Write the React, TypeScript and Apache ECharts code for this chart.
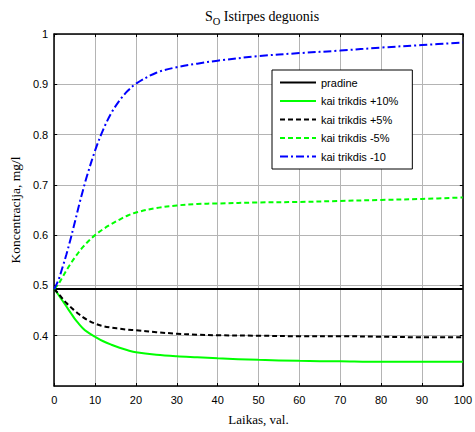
import React, { useEffect, useRef } from "react";
import * as echarts from "echarts";

const xs = [0, 1, 2, 3, 4, 5, 6, 7, 8, 10, 12, 14, 16, 18, 20, 25, 30, 35, 40, 50, 60, 70, 80, 90, 100];
const pradine = xs.map(() => 0.493);
const plus10 = [0.493, 0.482, 0.47, 0.458, 0.446, 0.434, 0.424, 0.415, 0.408, 0.398, 0.389, 0.382, 0.376, 0.371, 0.367, 0.362, 0.359, 0.357, 0.355, 0.352, 0.35, 0.349, 0.348, 0.348, 0.348];
const plus5 = [0.493, 0.484, 0.474, 0.465, 0.457, 0.45, 0.443, 0.437, 0.432, 0.424, 0.419, 0.416, 0.414, 0.412, 0.411, 0.407, 0.404, 0.402, 0.401, 0.4, 0.399, 0.399, 0.398, 0.397, 0.397];
const minus5 = [0.493, 0.502, 0.516, 0.53, 0.543, 0.555, 0.566, 0.576, 0.585, 0.6, 0.612, 0.622, 0.631, 0.639, 0.645, 0.654, 0.659, 0.662, 0.663, 0.665, 0.666, 0.668, 0.67, 0.672, 0.675];
const minus10 = [0.493, 0.51, 0.535, 0.562, 0.592, 0.624, 0.657, 0.688, 0.717, 0.768, 0.81, 0.843, 0.868, 0.887, 0.901, 0.923, 0.934, 0.941, 0.947, 0.956, 0.962, 0.967, 0.973, 0.978, 0.983];
const seriesNames = ["pradine", "kai trikdis +10%", "kai trikdis +5%", "kai trikdis -5%", "kai trikdis -10"];

const pairs = (ys: number[]) => xs.map((x, i) => [x, ys[i]]);

export default function App() {
  const ref = useRef<HTMLDivElement>(null);
  useEffect(() => {
    if (!ref.current) return;
    const chart = echarts.init(ref.current, null, { renderer: "svg" });
    const sans = "'Liberation Sans', Arial, sans-serif";
    const serif = "'Liberation Serif', 'Times New Roman', serif";
    const gridLine = { show: true, lineStyle: { color: "#b4b4b4", width: 1 } };
    const mk = (name: string, ys: number[], color: string, type: any) => ({
      name,
      type: "line",
      data: pairs(ys),
      showSymbol: false,
      symbol: "none",
      smooth: 0.35,
      lineStyle: { color, width: 2, type },
      itemStyle: { color },
      xAxisIndex: 0,
      yAxisIndex: 0,
      z: 3,
    });
    chart.setOption({
      animation: false,
      backgroundColor: "#ffffff",
      title: {
        text: "{s|S}{o|O}{s| Istirpes deguonis}",
        left: 200,
        top: 4,
        textStyle: {
          fontWeight: "normal",
          rich: {
            s: { fontFamily: serif, fontSize: 14, fontWeight: "normal", color: "#000", lineHeight: 18, verticalAlign: "top" },
            o: { fontFamily: serif, fontSize: 10.5, fontWeight: "normal", color: "#000", lineHeight: 18, verticalAlign: "bottom", padding: [8, 0, 0, 0] },
          },
        },
      },
      legend: {
        left: 272,
        top: 70,
        orient: "vertical",
        itemWidth: 36,
        itemHeight: 11,
        itemGap: 7.5,
        padding: [7, 14, 7, 7],
        borderColor: "#000",
        borderWidth: 1,
        backgroundColor: "#fff",
        itemStyle: { opacity: 0, borderWidth: 0 },
        textStyle: { fontFamily: sans, fontSize: 11, color: "#000" },
        data: seriesNames,
      },
      grid: { left: 50, right: 12, top: 34, bottom: 46 },
      xAxis: [
        {
          type: "value",
          min: 0,
          max: 100,
          interval: 10,
          name: "Laikas, val.",
          nameLocation: "middle",
          nameGap: 27,
          nameTextStyle: { fontFamily: serif, fontSize: 13, color: "#000" },
          axisLine: { show: true, onZero: false, lineStyle: { color: "#000", width: 1.5 } },
          axisTick: { show: true, inside: true, length: 3, lineStyle: { color: "#000" } },
          axisLabel: { fontFamily: sans, fontSize: 11, color: "#000", margin: 8 },
          splitLine: gridLine,
        },
        {
          type: "value",
          position: "top",
          min: 0,
          max: 100,
          interval: 10,
          axisLine: { show: true, onZero: false, lineStyle: { color: "#000", width: 1.5 } },
          axisTick: { show: true, inside: true, length: 3, lineStyle: { color: "#000" } },
          axisLabel: { show: false },
          splitLine: { show: false },
        },
      ],
      yAxis: [
        {
          type: "value",
          min: 0.3,
          max: 1,
          interval: 0.1,
          name: "Koncentracija, mg/l",
          nameLocation: "middle",
          nameGap: 30,
          nameRotate: 90,
          nameTextStyle: { fontFamily: serif, fontSize: 13.5, color: "#000" },
          axisLine: { show: true, onZero: false, lineStyle: { color: "#000", width: 1.5 } },
          axisTick: { show: true, inside: true, length: 3, lineStyle: { color: "#000" } },
          axisLabel: {
            fontFamily: sans,
            fontSize: 11,
            color: "#000",
            margin: 6,
            showMinLabel: false,
            formatter: (v: number) => String(parseFloat(v.toFixed(2))),
          },
          splitLine: gridLine,
        },
        {
          type: "value",
          position: "right",
          min: 0.3,
          max: 1,
          interval: 0.1,
          axisLine: { show: true, onZero: false, lineStyle: { color: "#000", width: 1.5 } },
          axisTick: { show: true, inside: true, length: 3, lineStyle: { color: "#000" } },
          axisLabel: { show: false },
          splitLine: { show: false },
        },
      ],
      series: [
        mk(seriesNames[0], pradine, "#000000", "solid"),
        mk(seriesNames[1], plus10, "#00ff00", "solid"),
        mk(seriesNames[2], plus5, "#000000", [5, 3]),
        mk(seriesNames[3], minus5, "#00ff00", [5, 3]),
        mk(seriesNames[4], minus10, "#0000ff", [8, 3, 2, 3]),
      ],
    });
    return () => chart.dispose();
  }, []);
  return (
    <div
      ref={ref}
      style={{ position: "fixed", left: 0, top: 0, width: 475, height: 432 }}
    />
  );
}
